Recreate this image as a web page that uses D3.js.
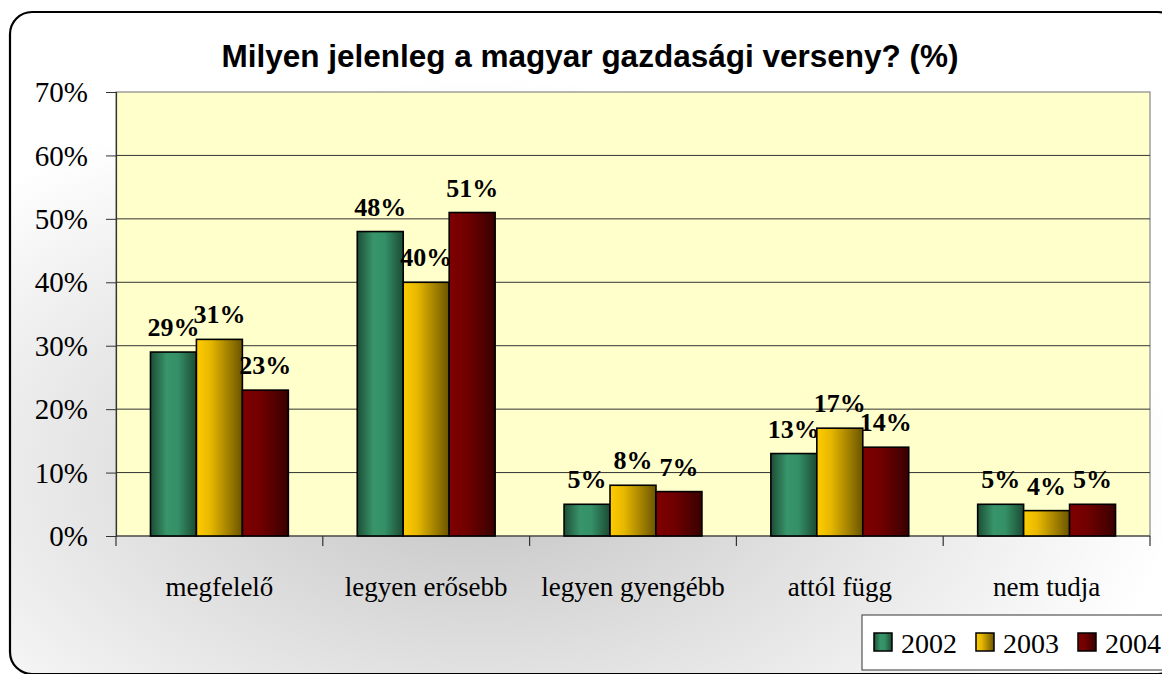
<!DOCTYPE html>
<html><head><meta charset="utf-8">
<script src="https://cdn.jsdelivr.net/npm/d3@7"></script>
<style>body{margin:0;background:#fff}svg{display:block}</style>
</head><body>
<svg id="c" width="1162" height="674"></svg>
<script>
const categories = ["megfelelő","legyen erősebb","legyen gyengébb","attól függ","nem tudja"];
const years = ["2002","2003","2004"];
const v2002 = [29,48,5,13,5];
const v2003 = [31,40,8,17,4];
const v2004 = [23,51,7,14,5];
const yTicks = [0,10,20,30,40,50,60,70];
const title = "Milyen jelenleg a magyar gazdasági verseny? (%)";

const series = [v2002, v2003, v2004];
const svg = d3.select("#c");
const defs = svg.append("defs");
const serif = "'Liberation Serif', 'Times New Roman', serif";

// background gradient
const rg = defs.append("radialGradient").attr("id","bg").attr("cx","0.4").attr("cy","0.7").attr("r","0.6");
rg.append("stop").attr("offset","0%").attr("stop-color","#c4c4c4");
rg.append("stop").attr("offset","100%").attr("stop-color","#ffffff");

const grads = [
  ["g0", [["0%","#1d4d35"],["35%","#38956a"],["60%","#349066"],["100%","#1c4a33"]]],
  ["g1", [["0%","#ffcc00"],["30%","#e8b800"],["100%","#6b5500"]]],
  ["g2", [["0%","#800000"],["40%","#700000"],["100%","#380000"]]]
];
grads.forEach(([id, stops]) => {
  const g = defs.append("linearGradient").attr("id", id).attr("x1","0").attr("x2","1").attr("y1","0").attr("y2","0");
  stops.forEach(s => g.append("stop").attr("offset", s[0]).attr("stop-color", s[1]));
});

svg.append("rect").attr("x",10).attr("y",12).attr("width",1170).attr("height",662).attr("rx",22)
  .attr("fill","url(#bg)").attr("stroke","#000").attr("stroke-width",2.2);

const L = 116, R = 1150, T = 92, B = 536;
const x0 = d3.scaleBand().domain(categories).range([L, R]).paddingInner(0).paddingOuter(0);
const x1 = d3.scaleBand().domain(years).range([0, x0.bandwidth()]).paddingOuter(0.75).paddingInner(0);
const y = d3.scaleLinear().domain([0,70]).range([B, T]);

svg.append("rect").attr("x",L).attr("y",T).attr("width",R-L).attr("height",B-T)
  .attr("fill","#ffffcc").attr("stroke","#888").attr("stroke-width",1.2);

// gridlines
svg.append("g").selectAll("line").data(yTicks.filter(d=>d>0 && d<70)).join("line")
  .attr("x1",L).attr("x2",R).attr("y1",d=>y(d)).attr("y2",d=>y(d))
  .attr("stroke","#333").attr("stroke-width",1);

// y axis
const yAxis = d3.axisLeft(y).tickValues(yTicks).tickFormat(d=>d+"%").tickSize(10).tickPadding(18);
const ya = svg.append("g").attr("transform",`translate(${L},0)`).call(yAxis);
ya.select(".domain").attr("stroke","#333").attr("stroke-width",1.2);
ya.selectAll(".tick line").attr("stroke","#333");
ya.selectAll("text").attr("font-family",serif).attr("font-size",29).attr("fill","#000").attr("dy","0.33em");

// x axis with ticks at boundaries
const xa = svg.append("g").attr("transform",`translate(0,${B})`);
xa.append("line").attr("x1",L).attr("x2",R).attr("stroke","#333").attr("stroke-width",1.2);
xa.selectAll("line.t").data(categories.map((c,i)=>i).concat([categories.length])).join("line").attr("class","t")
  .attr("x1",i=>L + i*x0.step()).attr("x2",i=>L + i*x0.step()).attr("y1",0).attr("y2",10).attr("stroke","#333").attr("stroke-width",1.2);
xa.selectAll("text").data(categories).join("text")
  .attr("x",d=>x0(d)+x0.bandwidth()/2).attr("y",60).attr("text-anchor","middle")
  .attr("font-family",serif).attr("font-size",27).text(d=>d);

// bars
years.forEach((yr, si) => {
  const g = svg.append("g");
  g.selectAll("rect").data(categories).join("rect")
    .attr("x",(d)=>x0(d)+x1(yr)).attr("width",x1.bandwidth())
    .attr("y",(d,i)=>y(series[si][i])).attr("height",(d,i)=>B - y(series[si][i]))
    .attr("fill",`url(#g${si})`).attr("stroke","#000").attr("stroke-width",1.6);
  g.selectAll("text").data(categories).join("text")
    .attr("x",(d)=>x0(d)+x1(yr)+x1.bandwidth()/2).attr("y",(d,i)=>y(series[si][i]) - 16)
    .attr("text-anchor","middle").attr("font-family",serif)
    .attr("font-weight","bold").attr("font-size",26).text((d,i)=>series[si][i]+"%");
});

// title
svg.append("text").attr("x",590).attr("y",67).attr("text-anchor","middle")
  .attr("font-family","'Liberation Sans', Arial, sans-serif").attr("font-weight","bold").attr("font-size",31.5).text(title);

// legend
const lg = svg.append("g");
lg.append("rect").attr("x",862).attr("y",615).attr("width",330).attr("height",55).attr("fill","#fff").attr("stroke","#555").attr("stroke-width",1.2);
const lx = [874, 976, 1078];
years.forEach((yr, i) => {
  lg.append("rect").attr("x",lx[i]).attr("y",633).attr("width",18).attr("height",18)
    .attr("fill",`url(#g${i})`).attr("stroke","#000").attr("stroke-width",1.5);
  lg.append("text").attr("x",lx[i]+27).attr("y",653).attr("font-family",serif)
    .attr("font-size",28).text(yr);
});
</script>
</body></html>
